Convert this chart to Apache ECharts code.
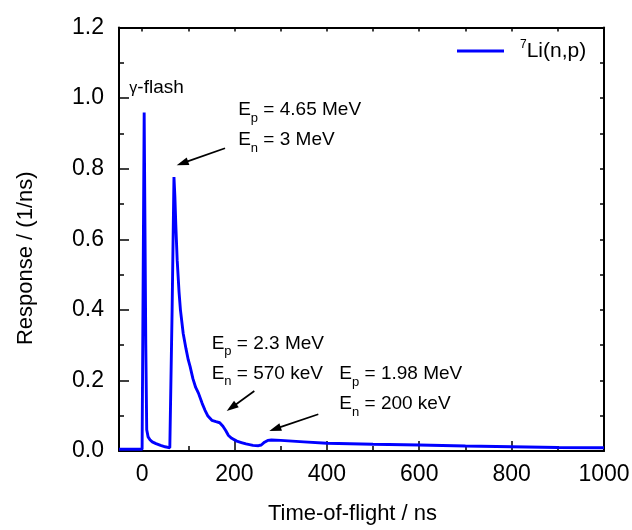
<!DOCTYPE html>
<html>
<head>
<meta charset="utf-8">
<script src="https://cdn.jsdelivr.net/npm/echarts@6/dist/echarts.min.js"></script>
<style>
  html, body { margin: 0; padding: 0; background: #fff; }
  #chart { width: 632px; height: 530px; }
</style>
</head>
<body>
<div id="chart"></div>
<script>
// Detector response of the 7Li(n,p) reaction versus neutron time of flight
const timeNs = [
  -50, -20, 0, 2.5, 4.5, 8, 10, 13, 17, 22, 30, 40, 50, 60, 64,
  65, 69, 71, 73, 76, 80, 83, 89, 95, 100, 104, 110, 116, 122, 130,
  136, 142, 151, 160, 168, 175, 181, 187, 194, 205, 215, 225, 240, 252,
  258, 265, 272, 280, 300, 350, 400, 500, 600, 700, 800, 900, 1000
];
const responsePerNs = [
  0.005, 0.005, 0.005, 0.005, 0.959, 0.30, 0.06, 0.040, 0.032, 0.026, 0.021, 0.016, 0.012, 0.009, 0.008,
  0.40, 0.776, 0.72, 0.64, 0.54, 0.45, 0.40, 0.333, 0.29, 0.258, 0.239, 0.205, 0.18, 0.164, 0.135,
  0.116, 0.10, 0.087, 0.083, 0.080, 0.070, 0.058, 0.044, 0.036, 0.028, 0.024, 0.020, 0.016, 0.015,
  0.017, 0.025, 0.030, 0.031, 0.030, 0.026, 0.022, 0.019, 0.017, 0.014, 0.012, 0.010, 0.009
];
const xMajorTicks = [0, 200, 400, 600, 800, 1000];
const xMinorTicks = [100, 300, 500, 700, 900];
const xTopTicks = [0, 100, 200, 300, 400, 500, 600, 700, 800, 900, 1000];
const seriesName = '7Li(n,p)';

// Annotation text blocks, anchored at the left/middle of their first line (data units)
const noteLines = [
  ['{g|γ}-flash'],
  ['E{s|p} = 4.65 MeV', 'E{s|n} = 3 MeV'],
  ['E{s|p} = 2.3 MeV', 'E{s|n} = 570 keV'],
  ['E{s|p} = 1.98 MeV', 'E{s|n} = 200 keV']
];
const noteAnchors = [[-27.7, 1.028], [208, 0.966], [150.6, 0.305], [427, 0.218]];
// Arrows: tail and head positions (data units)
const arrowTails = [[179.5, 0.858], [243, 0.170], [381.5, 0.104]];
const arrowHeads = [[74.9, 0.810], [183.2, 0.113], [275.4, 0.057]];

const FONT = '"Liberation Sans", Arial, Helvetica, sans-serif';
const points = timeNs.map((t, i) => [t, responsePerNs[i]]);

const chart = echarts.init(document.getElementById('chart'), null, { renderer: 'canvas' });

const axisLine = { show: true, onZero: false, lineStyle: { color: '#000', width: 2 } };
const tickStyle = { color: '#000', width: 1.5 };
const plainNumber = v => String(v);

chart.setOption({
  animation: false,
  backgroundColor: '#fff',
  grid: { left: 119, right: 28, top: 27.5, bottom: 79, outerBoundsMode: 'none' },
  legend: {
    left: 457, top: 39, padding: 0,
    icon: 'rect', itemWidth: 47, itemHeight: 3,
    data: [seriesName],
    formatter: () => '{gap|}{sup|7}Li(n,p)',
    textStyle: {
      fontFamily: FONT, fontSize: 21, color: '#000', lineHeight: 24,
      rich: {
        gap: { width: 11 },
        sup: { fontFamily: FONT, fontSize: 12, lineHeight: 13, verticalAlign: 'top', color: '#000' }
      }
    }
  },
  xAxis: [
    {
      type: 'value', position: 'bottom', min: -50, max: 1000,
      axisLine: axisLine,
      axisTick: { show: true, inside: true, length: 10, lineStyle: tickStyle, customValues: xMajorTicks },
      axisLabel: { show: true, customValues: xMajorTicks, formatter: plainNumber, fontFamily: FONT, fontSize: 23, color: '#000', margin: 12 },
      splitLine: { show: false },
      name: 'Time-of-flight / ns', nameLocation: 'middle', nameGap: 52,
      nameTextStyle: { fontFamily: FONT, fontSize: 22, color: '#000', padding: [0, 18, 0, 0] }
    },
    {
      type: 'value', position: 'bottom', min: -50, max: 1000,
      axisLine: { show: false, onZero: false },
      axisTick: { show: true, inside: true, length: 5, lineStyle: tickStyle, customValues: xMinorTicks },
      axisLabel: { show: false },
      splitLine: { show: false }
    },
    {
      type: 'value', position: 'top', min: -50, max: 1000,
      axisLine: axisLine,
      axisTick: { show: true, inside: true, length: 4, lineStyle: tickStyle, customValues: xTopTicks },
      axisLabel: { show: false },
      splitLine: { show: false }
    }
  ],
  yAxis: [
    {
      type: 'value', position: 'left', min: 0, max: 1.2, interval: 0.2,
      axisLine: axisLine,
      axisTick: { show: true, inside: true, length: 10, lineStyle: tickStyle },
      minorTick: { show: true, splitNumber: 2, length: 5, lineStyle: tickStyle },
      axisLabel: { fontFamily: FONT, fontSize: 23, color: '#000', margin: 15, formatter: v => v.toFixed(1) },
      splitLine: { show: false },
      name: 'Response / (1/ns)', nameLocation: 'middle', nameGap: 82,
      nameTextStyle: { fontFamily: FONT, fontSize: 22, color: '#000', padding: [0, 38, 0, 0] }
    },
    {
      type: 'value', position: 'right', min: 0, max: 1.2, interval: 0.2,
      axisLine: axisLine,
      axisTick: { show: true, inside: true, length: 4, lineStyle: tickStyle },
      minorTick: { show: true, splitNumber: 2, length: 4, lineStyle: tickStyle },
      axisLabel: { show: false },
      splitLine: { show: false }
    }
  ],
  series: [
    {
      name: seriesName, type: 'line', xAxisIndex: 0, yAxisIndex: 0,
      data: points, symbol: 'none', showSymbol: false, smooth: false,
      lineStyle: { color: '#0000ff', width: 2.9 },
      itemStyle: { color: '#0000ff' },
      clip: true, z: 3
    }
  ]
});

// Annotations: text blocks and arrows placed through the axis scales
const toPx = p => chart.convertToPixel({ xAxisIndex: 0, yAxisIndex: 0 }, p);
const LINE_H = 30;
const graphics = [];
noteLines.forEach((lines, i) => {
  const p = toPx(noteAnchors[i]);
  graphics.push({
    type: 'text', x: p[0], y: p[1] - LINE_H / 2, z: 10,
    style: {
      text: lines.join('\n'),
      fontFamily: FONT, fontSize: 19, fill: '#000',
      lineHeight: LINE_H, align: 'left', verticalAlign: 'top',
      rich: {
        s: { fontFamily: FONT, fontSize: 13, lineHeight: 14, verticalAlign: 'bottom', fill: '#000' },
        g: { fontFamily: FONT, fontSize: 16, fill: '#000' }
      }
    }
  });
});
arrowTails.forEach((tail, i) => {
  const a = toPx(tail), b = toPx(arrowHeads[i]);
  const dx = b[0] - a[0], dy = b[1] - a[1];
  const len = Math.hypot(dx, dy), ux = dx / len, uy = dy / len;
  const headLen = 12, halfW = 4;
  const base = [b[0] - ux * headLen, b[1] - uy * headLen];
  graphics.push({
    type: 'line', z: 10,
    shape: { x1: a[0], y1: a[1], x2: base[0] + ux * 2, y2: base[1] + uy * 2 },
    style: { stroke: '#000', lineWidth: 1.7 }
  });
  graphics.push({
    type: 'polygon', z: 10,
    shape: { points: [b, [base[0] - uy * halfW, base[1] + ux * halfW], [base[0] + uy * halfW, base[1] - ux * halfW]] },
    style: { fill: '#000' }
  });
});
chart.setOption({ graphic: graphics });
</script>
</body>
</html>
